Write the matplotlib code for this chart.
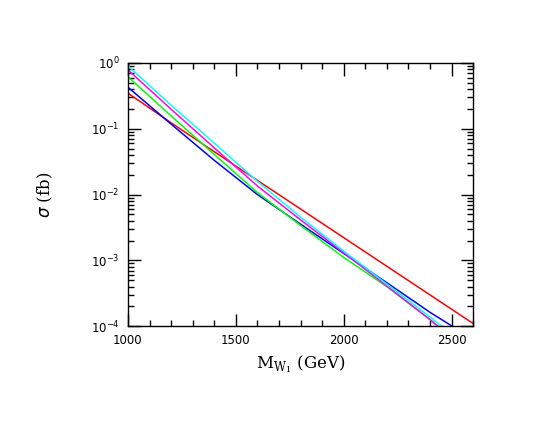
import matplotlib
matplotlib.use("Agg")
import matplotlib.pyplot as plt
import numpy as np
from matplotlib.ticker import MultipleLocator, LogLocator, NullFormatter

# W1 mass (GeV) and log10(sigma / fb)
mass = [1000, 1200, 1400, 1600, 1800, 2000, 2200, 2400, 2600]
log_red = [-0.46, -0.91, -1.35, -1.785, -2.22, -2.655, -3.09, -3.525, -3.96]
log_blue = [-0.37, -0.93, -1.48, -2.00, -2.45, -2.895, -3.34, -3.79, -4.20]
log_green = [-0.21, -0.806, -1.39, -1.97, -2.47, -2.955, -3.40, -3.90, -4.45]
log_magenta = [-0.106, -0.704, -1.29, -1.87, -2.385, -2.885, -3.39, -3.90, -4.45]
log_cyan = [-0.046, -0.643, -1.22, -1.80, -2.344, -2.86, -3.36, -3.86, -4.38]

series = [
    (log_red, "#ff0000"),
    (log_blue, "#0000ff"),
    (log_green, "#00ff00"),
    (log_magenta, "#ff00ff"),
    (log_cyan, "#00ffff"),
]

fig = plt.figure(figsize=(5.54, 4.28), dpi=100)
ax = fig.add_axes([0.231, 0.238, 0.623, 0.615])

for vals, col in series:
    ax.plot(mass, 10.0 ** np.array(vals), color=col, lw=1.1)

ax.set_yscale("log")
ax.set_xlim(1000, 2600)
ax.set_ylim(1e-4, 1)

ax.xaxis.set_major_locator(MultipleLocator(500))
ax.xaxis.set_minor_locator(MultipleLocator(100))
ax.yaxis.set_major_locator(LogLocator(base=10, numticks=10))
ax.yaxis.set_minor_locator(LogLocator(base=10, subs=np.arange(2, 10), numticks=20))
ax.yaxis.set_minor_formatter(NullFormatter())

ax.tick_params(which="both", direction="in", top=True, right=True, width=1.0)
ax.tick_params(which="major", length=9, labelsize=8.5, pad=6)
ax.tick_params(which="minor", length=4.5)
for s in ax.spines.values():
    s.set_linewidth(1.0)

ax.set_xlabel(r"M$_{\mathregular{W_1}}$ (GeV)", family="serif", fontsize=12)
ax.set_ylabel(r"$\sigma$ (fb)", family="serif", fontsize=12, labelpad=26)

fig.savefig("out.png", dpi=100)
